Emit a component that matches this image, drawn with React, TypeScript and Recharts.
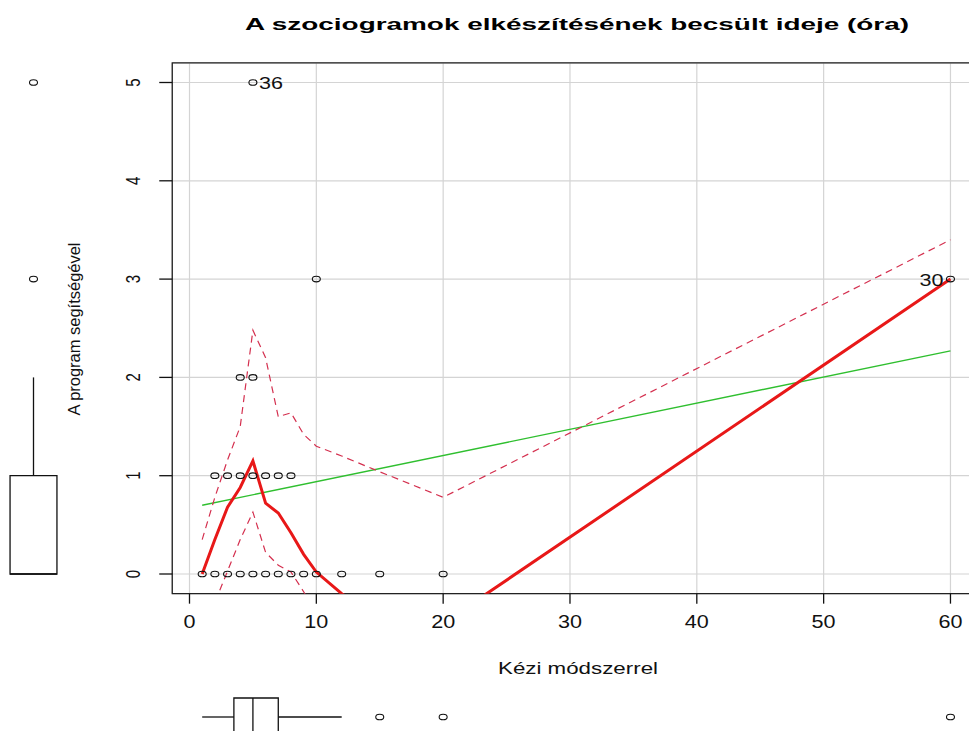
import React from 'react';
import {
  ComposedChart,
  XAxis,
  YAxis,
  CartesianGrid,
  Line,
  Scatter,
  ReferenceArea,
  ReferenceLine,
} from 'recharts';

const FONT = '"Liberation Sans", Arial, Helvetica, sans-serif';

// ---- texts ----
const titleText = 'A szociogramok elkészítésének becsült ideje (óra)';
const xLabelText = 'Kézi módszerrel';
const yLabelText = 'A program segítségével';

// ---- axes ----
const xTicks = [0, 10, 20, 30, 40, 50, 60];
const yTicks = [0, 1, 2, 3, 4, 5];
const xDomain: [number, number] = [-1.36, 62.36];
const yDomain: [number, number] = [-0.2, 5.2];

// ---- observed points ----
const pointX = [1, 2, 3, 4, 5, 6, 7, 8, 9, 10, 12, 15, 20, 2, 3, 4, 5, 6, 7, 8, 4, 5, 10, 60, 5];
const pointY = [0, 0, 0, 0, 0, 0, 0, 0, 0, 0, 0, 0, 0, 1, 1, 1, 1, 1, 1, 1, 2, 2, 3, 3, 5];

// ---- labelled points ----
const labelX = [5, 60];
const labelY = [5, 3];
const labelText = ['36', '30'];

// ---- smoother (solid) and spread (dashed) ----
const smoothX = [1, 2, 3, 4, 5, 6, 7, 8, 9, 10, 12, 15, 20, 60];
const smoothY = [0, 0.35, 0.68, 0.88, 1.15, 0.72, 0.62, 0.42, 0.2, 0.02, -0.2, -0.45, -0.5, 3.0];
const upperY = [0.35, 0.78, 1.16, 1.5, 2.48, 2.2, 1.6, 1.64, 1.42, 1.3, 1.2, 1.04, 0.78, 3.4];
const lowerX = [1, 2, 3, 4, 5, 6, 7, 8, 9, 10, 12];
const lowerY = [-0.62, -0.29, 0.03, 0.35, 0.63, 0.22, 0.09, 0.02, -0.18, -0.4, -0.8];

// ---- linear regression ----
const regX = [1, 60];
const regY = [0.7, 2.27];

// ---- marginal boxplots: [lower whisker, Q1, median, Q3, upper whisker] ----
const xBoxStats = [1, 3.5, 5, 7, 12];
const xOutliers = [15, 20, 60];
const yBoxStats = [0, 0, 0, 1, 2];
const yOutliers = [3, 5];

// ---- layout ----
const W = 969;
const H = 731;
const CHART_W = 1000;
const PLOT_LEFT = 172.25;
const PLOT_RIGHT = 980.4;
const PLOT_TOP = 62.84;
const PLOT_BOTTOM = 593.66;
const X_AXIS_H = 40;

const zip = (xs: number[], ys: number[]) => xs.map((x, i) => ({ x, y: ys[i] }));

const points = zip(pointX, pointY);
const labelled = labelX.map((x, i) => ({ x, y: labelY[i], label: labelText[i] }));
const smoothData = zip(smoothX, smoothY);
const upperData = zip(smoothX, upperY);
const lowerData = zip(lowerX, lowerY);
const regData = zip(regX, regY);

const Ring = (p: any) => {
  if (p.cx == null || p.cy == null) return null;
  return <ellipse cx={p.cx} cy={p.cy} rx={4} ry={2.8} fill="none" stroke="#111" strokeWidth={1.1} />;
};

const PointLabel = (p: any) => {
  if (p.cx == null || p.cy == null) return null;
  const left = p.payload && p.payload.x > 30;
  const s = String(p.payload ? p.payload.label : '');
  return (
    <text
      x={left ? p.cx - 7 : p.cx + 6}
      y={p.cy + 6.5}
      textAnchor={left ? 'end' : 'start'}
      fontSize={17}
      fontFamily={FONT}
      fill="#111"
      textLength={12 * s.length}
      lengthAdjust="spacingAndGlyphs"
    >
      {s}
    </text>
  );
};

const XTick = (p: any) => {
  const s = String(p.payload.value);
  return (
    <text
      x={p.x}
      y={p.y + 24}
      textAnchor="middle"
      fontSize={17.5}
      fontFamily={FONT}
      fill="#111"
      textLength={12 * s.length}
      lengthAdjust="spacingAndGlyphs"
    >
      {s}
    </text>
  );
};

const YTick = (p: any) => {
  const s = String(p.payload.value);
  return (
    <text
      transform={`translate(${p.x - 19},${p.y}) rotate(-90) scale(1,1.3)`}
      textAnchor="middle"
      fontSize={15}
      fontFamily={FONT}
      fill="#111"
    >
      {s}
    </text>
  );
};

const boxStroke = { stroke: '#111', strokeWidth: 1.3 };

export default function App() {
  const [xlo, xq1, xmed, xq3, xhi] = xBoxStats;
  const [ylo, yq1, ymed, yq3, yhi] = yBoxStats;
  const BOX_CENTER = 0.5;
  const BOX_HALF = 0.38;
  const YBOX_HALF = 0.35;

  return (
    <div
      style={{
        position: 'absolute',
        left: 0,
        top: 0,
        width: W,
        height: H,
        overflow: 'hidden',
        background: '#fff',
      }}
    >
      {/* main scatter plot */}
      <div style={{ position: 'absolute', left: 0, top: 0 }}>
        <ComposedChart
          width={CHART_W}
          height={H}
          margin={{ top: PLOT_TOP, right: CHART_W - PLOT_RIGHT, bottom: H - PLOT_BOTTOM - X_AXIS_H, left: 0 }}
        >
          <CartesianGrid stroke="#d4d4d4" strokeWidth={1.2} />
          <XAxis
            type="number"
            dataKey="x"
            domain={xDomain}
            ticks={xTicks}
            interval={0}
            allowDataOverflow
            height={X_AXIS_H}
            tickSize={10}
            tickMargin={0}
            axisLine={false}
            tickLine={{ stroke: '#111', strokeWidth: 1.3 }}
            tick={<XTick />}
          />
          <YAxis
            type="number"
            dataKey="y"
            domain={yDomain}
            ticks={yTicks}
            interval={0}
            allowDataOverflow
            width={PLOT_LEFT}
            tickSize={13}
            tickMargin={0}
            axisLine={false}
            tickLine={{ stroke: '#111', strokeWidth: 1.3 }}
            tick={<YTick />}
          />
          <ReferenceArea
            x1={xDomain[0]}
            x2={xDomain[1]}
            y1={yDomain[0]}
            y2={yDomain[1]}
            fill="none"
            fillOpacity={0}
            stroke="#222"
            strokeWidth={1.3}
            ifOverflow="visible"
          />
          <Scatter data={points} shape={Ring} isAnimationActive={false} />
          <Scatter data={labelled} shape={PointLabel} isAnimationActive={false} />
          <Line
            data={regData}
            dataKey="y"
            type="linear"
            dot={false}
            activeDot={false}
            stroke="#2fbf2f"
            strokeWidth={1.4}
            isAnimationActive={false}
          />
          <Line
            data={upperData}
            dataKey="y"
            type="linear"
            dot={false}
            activeDot={false}
            stroke="#d4304f"
            strokeWidth={1.2}
            strokeDasharray="7 5"
            isAnimationActive={false}
          />
          <Line
            data={lowerData}
            dataKey="y"
            type="linear"
            dot={false}
            activeDot={false}
            stroke="#d4304f"
            strokeWidth={1.2}
            strokeDasharray="7 5"
            isAnimationActive={false}
          />
          <Line
            data={smoothData}
            dataKey="y"
            type="linear"
            dot={false}
            activeDot={false}
            stroke="#e81818"
            strokeWidth={3}
            isAnimationActive={false}
          />
        </ComposedChart>
      </div>

      {/* bottom marginal boxplot (x variable) */}
      <div style={{ position: 'absolute', left: 0, top: 692 }}>
        <ComposedChart
          width={CHART_W}
          height={50}
          margin={{ top: 0, right: CHART_W - PLOT_RIGHT, bottom: 0, left: PLOT_LEFT }}
        >
          <XAxis type="number" dataKey="x" domain={xDomain} allowDataOverflow hide />
          <YAxis type="number" dataKey="y" domain={[0, 1]} hide />
          <ReferenceArea
            x1={xq1}
            x2={xq3}
            y1={BOX_CENTER - BOX_HALF}
            y2={BOX_CENTER + BOX_HALF}
            fill="none"
            fillOpacity={0}
            {...boxStroke}
            ifOverflow="visible"
          />
          <ReferenceLine
            segment={[{ x: xmed, y: BOX_CENTER - BOX_HALF }, { x: xmed, y: BOX_CENTER + BOX_HALF }]}
            {...boxStroke}
            ifOverflow="visible"
          />
          <ReferenceLine segment={[{ x: xlo, y: BOX_CENTER }, { x: xq1, y: BOX_CENTER }]} {...boxStroke} ifOverflow="visible" />
          <ReferenceLine segment={[{ x: xq3, y: BOX_CENTER }, { x: xhi, y: BOX_CENTER }]} {...boxStroke} ifOverflow="visible" />
          <Scatter data={xOutliers.map((v) => ({ x: v, y: BOX_CENTER }))} shape={Ring} isAnimationActive={false} />
        </ComposedChart>
      </div>

      {/* left marginal boxplot (y variable) */}
      <div style={{ position: 'absolute', left: 0, top: 0 }}>
        <ComposedChart
          width={67}
          height={H}
          margin={{ top: PLOT_TOP, right: 0, bottom: H - PLOT_BOTTOM, left: 0 }}
        >
          <XAxis type="number" dataKey="x" domain={[0, 1]} hide />
          <YAxis type="number" dataKey="y" domain={yDomain} allowDataOverflow hide />
          <ReferenceArea
            x1={BOX_CENTER - YBOX_HALF}
            x2={BOX_CENTER + YBOX_HALF}
            y1={yq1}
            y2={yq3}
            fill="none"
            fillOpacity={0}
            {...boxStroke}
            ifOverflow="visible"
          />
          <ReferenceLine
            segment={[{ x: BOX_CENTER - YBOX_HALF, y: ymed }, { x: BOX_CENTER + YBOX_HALF, y: ymed }]}
            {...boxStroke}
            ifOverflow="visible"
          />
          <ReferenceLine segment={[{ x: BOX_CENTER, y: yq3 }, { x: BOX_CENTER, y: yhi }]} {...boxStroke} ifOverflow="visible" />
          <ReferenceLine segment={[{ x: BOX_CENTER, y: ylo }, { x: BOX_CENTER, y: yq1 }]} {...boxStroke} ifOverflow="visible" />
          <Scatter data={yOutliers.map((v) => ({ x: BOX_CENTER, y: v }))} shape={Ring} isAnimationActive={false} />
        </ComposedChart>
      </div>

      {/* title and axis titles */}
      <svg
        width={W}
        height={H}
        style={{ position: 'absolute', left: 0, top: 0, pointerEvents: 'none' }}
      >
        <text
          x={577}
          y={29.5}
          textAnchor="middle"
          fontSize={17}
          fontWeight="bold"
          fontFamily={FONT}
          fill="#000"
          textLength={664}
          lengthAdjust="spacingAndGlyphs"
        >
          {titleText}
        </text>
        <text
          x={578}
          y={674}
          textAnchor="middle"
          fontSize={17}
          fontFamily={FONT}
          fill="#111"
          textLength={160}
          lengthAdjust="spacingAndGlyphs"
        >
          {xLabelText}
        </text>
        <text
          transform="translate(80,329) rotate(-90)"
          textAnchor="middle"
          fontSize={16}
          fontFamily={FONT}
          fill="#111"
          textLength={173}
          lengthAdjust="spacingAndGlyphs"
        >
          {yLabelText}
        </text>
      </svg>
    </div>
  );
}
